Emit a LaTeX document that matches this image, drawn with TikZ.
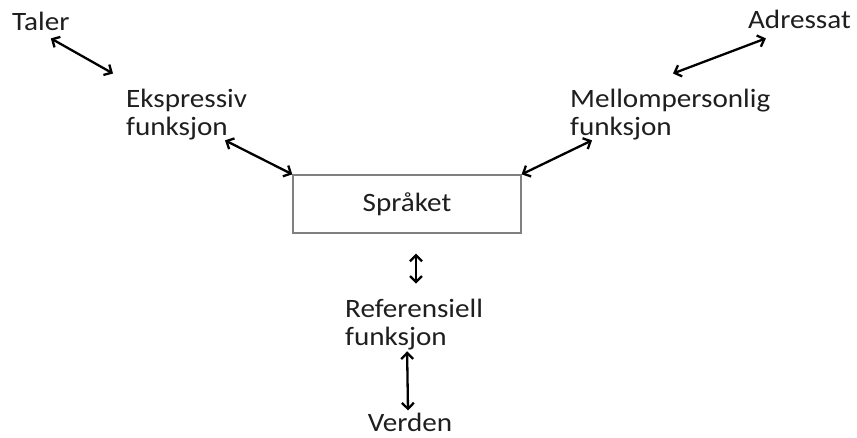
\documentclass[tikz,border=0pt]{standalone}
\usepackage{fontspec}
\setmainfont[FakeStretch=1.1]{Carlito}
\usepackage{tikz}
\usetikzlibrary{positioning,calc,arrows.meta}
\usepackage{xcolor}
\definecolor{ink}{HTML}{1E1E1E}
\definecolor{boxgray}{HTML}{808080}

\tikzset{
  lbl/.style={inner sep=0pt, text=ink, font=\fontsize{26.5}{28.5}\selectfont, align=left},
  langbox/.style={draw=boxgray, line width=1.3pt, minimum width=228pt, minimum height=58pt,
    inner sep=0pt, text=ink, font=\fontsize{26.5}{28.5}\selectfont},
  dblarrow/.style={draw=black, line width=2.3pt, line cap=round,
    {Straight Barb[length=6pt,width=12pt]}-{Straight Barb[length=6pt,width=12pt]}}
}

\begin{document}
\begin{tikzpicture}[x=1pt,y=-1pt]
  \useasboundingbox (0,0) rectangle (857,437);
  % the language in the middle
  \node[langbox] (spraak) at (407,204) {Språket};
  % speaker and addressee at the top corners
  \node[lbl, anchor=base west] (taler) at (12,30) {Taler};
  \node[lbl, anchor=base east] (adressat) at (851,28) {Adressat};
  % the three functions
  \node[lbl, anchor=north west] (eks) at (126,88.5) {Ekspressiv\\funksjon};
  \node[lbl, anchor=north west] (mel) at (570,88.5) {Mellompersonlig\\funksjon};
  \node[lbl, anchor=north west] (ref) at (345,298.5) {Referensiell\\funksjon};
  % the world at the bottom
  \node[lbl, anchor=base] (verden) at (410,431) {Verden};
  % two-headed links
  \draw[dblarrow] ($(taler.south)+(10,8)$) -- ($(eks.north west)+(-13,-15)$);
  \draw[dblarrow] ($(eks.south west)+(99,0)$) -- (spraak.north west);
  \draw[dblarrow] (spraak.north east) -- ($(mel.south west)+(22,0)$);
  \draw[dblarrow] ($(mel.north west)+(103,-15)$) -- ($(adressat.south west)+(18,10)$);
  \draw[dblarrow] ($(spraak.south)+(9,20)$) -- ($(spraak.south)+(9,50)$);
  \draw[dblarrow] ($(ref.south)+(-7,1)$) -- ($(verden.north)+(-2,-2)$);
\end{tikzpicture}
\end{document}
